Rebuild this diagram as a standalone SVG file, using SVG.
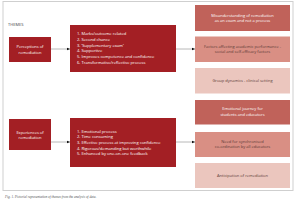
<svg xmlns="http://www.w3.org/2000/svg" width="300" height="201" viewBox="0 0 300 201">
<style>
text{font-family:"Open Sans","Liberation Sans",sans-serif;}
.dark{fill:#a31f24;}
.c1{fill:#c0625a;}
.c2{fill:#d98f84;}
.c3{fill:#ebc6be;}
.wt{fill:#fff;font-size:4px;}
.lt{fill:#fff;font-size:4.1px;}
.dt{fill:#5a3a36;font-size:4px;}
.mid{text-anchor:middle;}
.conn{stroke:#b8b8b8;stroke-width:1;fill:none;marker-end:url(#ah);}
</style>
<defs>
<marker id="ah" markerWidth="4" markerHeight="4" refX="3.5" refY="2" orient="auto" markerUnits="userSpaceOnUse">
<path d="M0,0.4 L3.5,2 L0,3.6 z" fill="#111"/>
</marker>
</defs>
<rect width="300" height="201" fill="#fff"/>
<rect x="3" y="1.5" width="290" height="189" fill="none" stroke="#cfcfcf" stroke-width="1"/>
<text x="8" y="25.5" font-size="4" fill="#444">THEMES</text>
<g id="connectors">
<line class="conn" x1="51" y1="49" x2="70" y2="49"/>
<line class="conn" x1="176" y1="49" x2="195" y2="49"/>
<line class="conn" x1="51" y1="142" x2="70" y2="142"/>
<line class="conn" x1="176" y1="142" x2="195" y2="142"/>
</g>
<g id="perceptions">
<rect class="dark" x="9" y="37" width="42" height="25"/>
<text class="wt mid" x="30" y="48">Perceptions of</text>
<text class="wt mid" x="30" y="53.5">remediation</text>
</g>
<g id="perceptions-list">
<rect class="dark" x="70" y="25" width="106" height="47"/>
<text class="lt" x="77" y="35">1. Marks/outcome related</text>
<text class="lt" x="77" y="40.8">2. Second chance</text>
<text class="lt" x="77" y="46.6">3. ‘Supplementary exam’</text>
<text class="lt" x="77" y="52.4">4. Supportive</text>
<text class="lt" x="77" y="58.2">5. Improves competence and confidence</text>
<text class="lt" x="77" y="64">6. Transformative/reflective process</text>
</g>
<g id="experiences">
<rect class="dark" x="9" y="119" width="42" height="31"/>
<text class="wt mid" x="30" y="133.5">Experiences of</text>
<text class="wt mid" x="30" y="139">remediation</text>
</g>
<g id="experiences-list">
<rect class="dark" x="70" y="118" width="106" height="49"/>
<text class="lt" x="77" y="132.5">1. Emotional process</text>
<text class="lt" x="77" y="138.2">2. Time consuming</text>
<text class="lt" x="77" y="143.9">3. Effective process at improving confidence</text>
<text class="lt" x="77" y="149.6">4. Rigorous/demanding but worthwhile</text>
<text class="lt" x="77" y="155.3">5. Enhanced by one-on-one feedback</text>
</g>
<g id="theme1">
<rect class="c1" x="195" y="5" width="95" height="26"/>
<text class="wt mid" x="242.5" y="16.5">Misunderstanding of remediation</text>
<text class="wt mid" x="242.5" y="22">as an exam and not a process</text>
</g>
<g id="theme2">
<rect class="c2" x="195" y="36.5" width="95" height="25.5"/>
<text class="dt mid" x="242.5" y="47.5">Factors affecting academic performance -</text>
<text class="dt mid" x="242.5" y="53">social and self-efficacy factors</text>
</g>
<g id="theme3">
<rect class="c3" x="195" y="68" width="95" height="25.5"/>
<text class="dt mid" x="242.5" y="82">Group dynamics - clinical setting</text>
</g>
<g id="theme4">
<rect class="c1" x="195" y="100" width="95" height="24.5"/>
<text class="wt mid" x="242.5" y="110">Emotional journey for</text>
<text class="wt mid" x="242.5" y="115.5">students and educators</text>
</g>
<g id="theme5">
<rect class="c2" x="195" y="132" width="95" height="25"/>
<text class="dt mid" x="242.5" y="142.5">Need for synchronised</text>
<text class="dt mid" x="242.5" y="148">co-ordination by all educators</text>
</g>
<g id="theme6">
<rect class="c3" x="195" y="163" width="95" height="25"/>
<text class="dt mid" x="242.5" y="176.5">Anticipation of remediation</text>
</g>
<text x="5" y="198" font-size="3.4" font-style="italic" fill="#555" style="font-family:'Liberation Serif',serif">Fig. 1. Pictorial representation of themes from the analysis of data.</text>
</svg>
